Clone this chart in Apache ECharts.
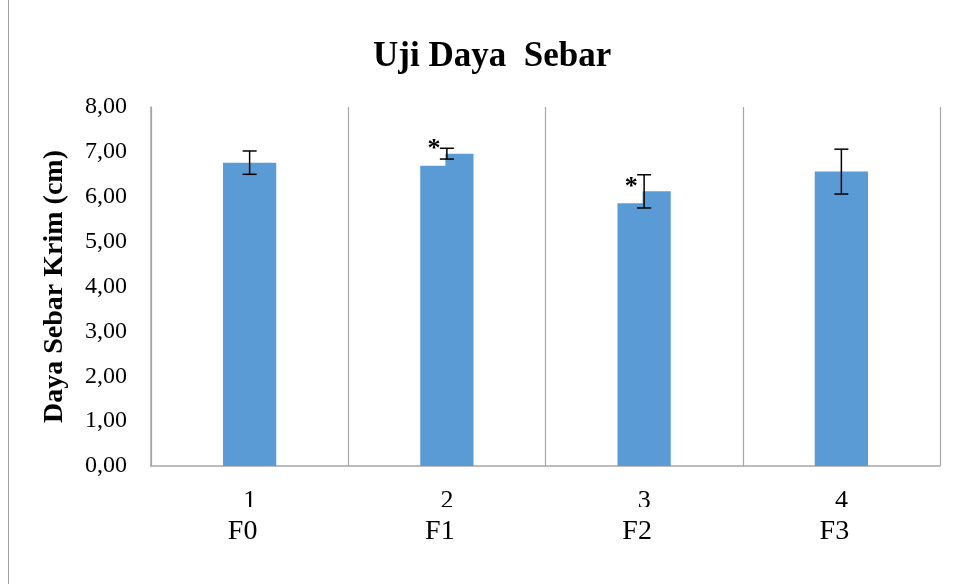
<!DOCTYPE html>
<html>
<head>
<meta charset="utf-8">
<script src="https://cdn.jsdelivr.net/npm/echarts@6/dist/echarts.min.js"></script>
<style>
html, body { margin: 0; padding: 0; background: #fff; }
#chart { width: 955px; height: 584px; }
</style>
</head>
<body>
<div id="chart"></div>
<script>
var categories = ['1', '2', '3', '4'];
var groupNames = ['F0', 'F1', 'F2', 'F3'];
var spread = [6.76, 6.96, 6.12, 6.56];
var spreadErr = [0.26, 0.12, 0.37, 0.50];
var signif = ['', '*', '*', ''];

var serif = '"Liberation Serif", "Times New Roman", serif';
var gridColor = '#a6a6a6';

var dom = document.getElementById('chart');
var myChart = echarts.init(dom, null, { renderer: 'canvas' });

var errData = spread.map(function (v, i) { return [i, v, spreadErr[i]]; });
var sigData = [];
signif.forEach(function (s, i) {
    if (s) sigData.push([i, spread[i], s]);
});
var nameData = groupNames.map(function (n, i) { return [i, 0, n]; });

option = {
    backgroundColor: '#fff',
    animation: false,
    title: {
        text: 'Uji Daya  Sebar',
        left: 368,
        top: 34,
        textStyle: {
            fontFamily: serif,
            fontWeight: 'bold',
            fontSize: 35,
            color: '#000'
        }
    },
    graphic: [{
        type: 'rect',
        shape: { x: 8.5, y: -2, width: 960, height: 600 },
        style: { fill: 'none', stroke: '#a0a0a0', lineWidth: 1 },
        silent: true
    }],
    grid: {
        left: 151,
        right: 15,
        top: 107,
        bottom: 118
    },
    xAxis: {
        type: 'category',
        data: categories,
        axisLine: { lineStyle: { color: gridColor, width: 1.5 } },
        axisTick: { show: false },
        axisLabel: {
            margin: 22,
            fontFamily: serif,
            fontSize: 26,
            color: '#000'
        },
        splitLine: { show: true, lineStyle: { color: gridColor, width: 1.2 } }
    },
    yAxis: {
        type: 'value',
        min: 0,
        max: 8,
        interval: 1,
        name: 'Daya Sebar Krim (cm)',
        nameLocation: 'middle',
        nameGap: 82,
        nameTextStyle: {
            fontFamily: serif,
            fontWeight: 'bold',
            fontSize: 28,
            color: '#000'
        },
        axisLine: { show: true, lineStyle: { color: gridColor, width: 1.5 } },
        axisTick: { show: false },
        splitLine: { show: false },
        axisLabel: {
            margin: 24,
            fontFamily: serif,
            fontSize: 24,
            color: '#000',
            formatter: function (v) { return v.toFixed(2).replace('.', ','); }
        }
    },
    series: [
        {
            type: 'bar',
            data: spread,
            barWidth: '27%',
            itemStyle: { color: '#5b9bd5' },
            z: 2
        },
        {
            type: 'custom',
            data: sigData,
            clip: false,
            z: 3,
            renderItem: function (params, api) {
                var p = api.coord([api.value(0), api.value(1)]);
                return {
                    type: 'group',
                    children: [{
                        type: 'rect',
                        shape: { x: p[0] - 50, y: p[1] - 32, width: 48.5, height: 44 },
                        style: { fill: '#fff' }
                    }, {
                        type: 'text',
                        style: {
                            x: p[0] - 13,
                            y: p[1] - 4,
                            text: sigData[params.dataIndex][2],
                            fill: '#000',
                            font: 'bold 26px ' + serif,
                            align: 'center',
                            verticalAlign: 'middle'
                        }
                    }]
                };
            }
        },
        {
            type: 'custom',
            data: errData,
            clip: false,
            z: 4,
            renderItem: function (params, api) {
                var i = api.value(0);
                var v = api.value(1);
                var e = api.value(2);
                var hi = api.coord([i, v + e]);
                var lo = api.coord([i, v - e]);
                var cap = 7;
                var st = { stroke: '#000', lineWidth: 1.5 };
                return {
                    type: 'group',
                    children: [
                        { type: 'line', shape: { x1: hi[0], y1: hi[1], x2: lo[0], y2: lo[1] }, style: st },
                        { type: 'line', shape: { x1: hi[0] - cap, y1: hi[1], x2: hi[0] + cap, y2: hi[1] }, style: st },
                        { type: 'line', shape: { x1: lo[0] - cap, y1: lo[1], x2: lo[0] + cap, y2: lo[1] }, style: st }
                    ]
                };
            }
        },
        {
            type: 'custom',
            data: nameData,
            clip: false,
            z: 5,
            renderItem: function (params, api) {
                var p = api.coord([api.value(0), 0]);
                return {
                    type: 'group',
                    children: [{
                        type: 'rect',
                        shape: { x: p[0] - 45, y: p[1] + 41, width: 80, height: 55 },
                        style: { fill: '#fff' }
                    }, {
                        type: 'text',
                        style: {
                            x: p[0] - 7,
                            y: p[1] + 66,
                            text: nameData[params.dataIndex][2],
                            fill: '#000',
                            font: '28px ' + serif,
                            align: 'center',
                            verticalAlign: 'middle'
                        }
                    }]
                };
            }
        }
    ]
};

if (option && typeof option === 'object') {
    myChart.setOption(option, true);
}
</script>
</body>
</html>
